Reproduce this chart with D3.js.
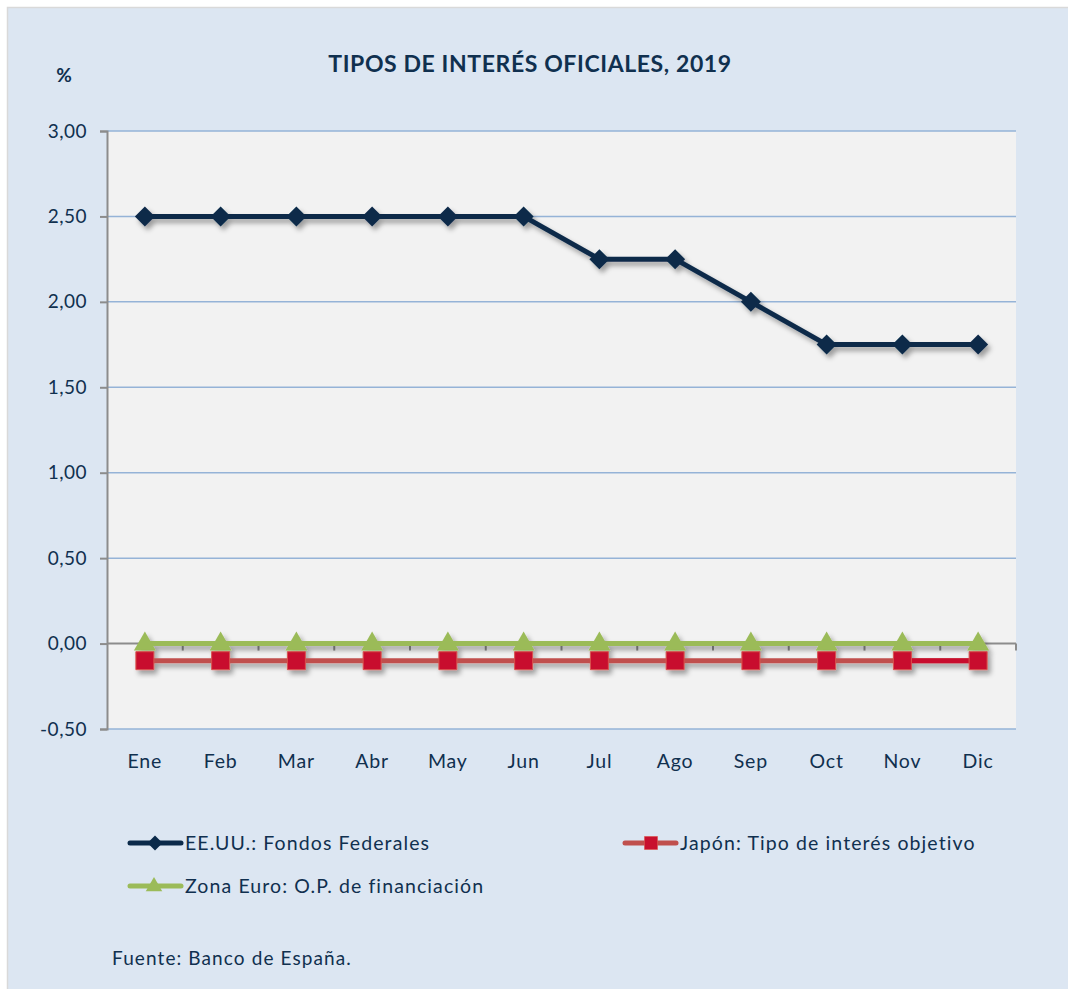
<!DOCTYPE html>
<html>
<head>
<meta charset="utf-8">
<script src="https://cdn.jsdelivr.net/npm/d3@7"></script>
<style>
    body { margin: 0; background: #fff; }
    svg { display: block; }
    text { font-family: Lato, "Open Sans", sans-serif; fill: #10304f; }
</style>
</head>
<body>
<div id="chart"></div>
<script>
// chart data
let months = ["Ene", "Feb", "Mar", "Abr", "May", "Jun", "Jul", "Ago", "Sep", "Oct", "Nov", "Dic"];
let usaValues = [2.5, 2.5, 2.5, 2.5, 2.5, 2.5, 2.25, 2.25, 2.0, 1.75, 1.75, 1.75];
let japanValues = [-0.1, -0.1, -0.1, -0.1, -0.1, -0.1, -0.1, -0.1, -0.1, -0.1, -0.1, -0.1];
let euroValues = [0, 0, 0, 0, 0, 0, 0, 0, 0, 0, 0, 0];
let yTicks = [-0.5, 0, 0.5, 1, 1.5, 2, 2.5, 3];
let seriesNames = ["EE.UU.: Fondos Federales", "Japón: Tipo de interés objetivo", "Zona Euro: O.P. de financiación"];

let config = {
    width: 1068,
    height: 989,
    left: 107,
    right: 1016,
    top: 131,
    bottom: 729
};

let series = [
    {name: seriesNames[2], values: euroValues, color: "#9bbb59", marker: "triangle", fill: "#9bbb59"},
    {name: seriesNames[1], values: japanValues, color: "#c0504d", marker: "square", fill: "#c8102e"},
    {name: seriesNames[0], values: usaValues, color: "#0b2a4a", marker: "diamond", fill: "#0b2a4a"}
];

let svg = d3.select("#chart").append("svg")
    .attr("width", config.width)
    .attr("height", config.height);

let defs = svg.append("defs");
defs.append("filter")
    .attr("id", "shadow")
    .attr("x", "-10%").attr("y", "-50%")
    .attr("width", "120%").attr("height", "200%")
    .append("feDropShadow")
    .attr("dx", 3).attr("dy", 4)
    .attr("stdDeviation", 2.5)
    .attr("flood-color", "#000")
    .attr("flood-opacity", 0.35);

// background panel
svg.append("rect")
    .attr("x", 7.5).attr("y", 7.5)
    .attr("width", config.width).attr("height", config.height)
    .attr("fill", "#dce6f2")
    .attr("stroke", "#d9d9d9")
    .attr("stroke-width", 1.5);

let x = d3.scaleBand()
    .domain(months)
    .range([config.left, config.right]);

let y = d3.scaleLinear()
    .domain([-0.5, 3])
    .range([config.bottom, config.top]);

// plot area
svg.append("rect")
    .attr("x", config.left).attr("y", config.top)
    .attr("width", config.right - config.left)
    .attr("height", config.bottom - config.top)
    .attr("fill", "#f2f2f2");

// gridlines
svg.append("g")
    .selectAll("line")
    .data(yTicks.filter((d) => d !== 0))
    .enter().append("line")
    .attr("x1", config.left).attr("x2", config.right)
    .attr("y1", (d) => y(d)).attr("y2", (d) => y(d))
    .attr("stroke", "#95b3d7")
    .attr("stroke-width", 1.5);

// y axis
let yAxis = svg.append("g")
    .attr("transform", `translate(${config.left},0)`)
    .call(d3.axisLeft(y)
        .tickValues(yTicks)
        .tickSize(7)
        .tickPadding(13)
        .tickFormat((d) => d3.format(".2f")(d).replace(".", ",").replace("\u2212", "-")));
yAxis.select(".domain").attr("stroke", "#8c8c8c").attr("stroke-width", 2);
yAxis.selectAll(".tick line").attr("stroke", "#8c8c8c").attr("stroke-width", 2);
yAxis.selectAll(".tick text")
    .style("font-size", "19px")
    .style("letter-spacing", "0.5px")
    .attr("fill", "#10304f");

// x axis at zero
let xAxis = svg.append("g")
    .attr("transform", `translate(0,${y(0)})`);
xAxis.append("line")
    .attr("x1", config.left).attr("x2", config.right)
    .attr("stroke", "#8c8c8c").attr("stroke-width", 2);
xAxis.selectAll("line.tick")
    .data(months.slice(1).concat(["end"]))
    .enter().append("line")
    .attr("class", "tick")
    .attr("x1", (d) => d === "end" ? config.right : x(d))
    .attr("x2", (d) => d === "end" ? config.right : x(d))
    .attr("y1", 0).attr("y2", 7)
    .attr("stroke", "#8c8c8c").attr("stroke-width", 2);

// x labels at the bottom
svg.append("g")
    .selectAll("text")
    .data(months)
    .enter().append("text")
    .attr("x", (d) => x(d) + x.bandwidth() / 2)
    .attr("y", config.bottom + 39)
    .attr("text-anchor", "middle")
    .style("font-size", "19.5px")
    .style("letter-spacing", "0.8px")
    .text((d) => d);

let line = d3.line()
    .x((d, i) => x(months[i]) + x.bandwidth() / 2)
    .y((d) => y(d));

function markerPath(type) {
    if (type === "diamond") return "M0,-10L10,0L0,10L-10,0Z";
    if (type === "square") return "M-9,-9H9V9H-9Z";
    return "M0,-12L11,7H-11Z";
}

series.forEach(function (s) {
    let g = svg.append("g").attr("filter", "url(#shadow)");
    g.append("path")
        .datum(s.values)
        .attr("d", line)
        .attr("fill", "none")
        .attr("stroke", s.color)
        .attr("stroke-width", 5)
        .attr("stroke-linejoin", "round");
    if (s.marker === "square") {
        // last segment drawn in the marker colour, as in the original
        g.append("path")
            .datum(s.values.slice(-2))
            .attr("d", d3.line()
                .x((d, i) => x(months[months.length - 2 + i]) + x.bandwidth() / 2)
                .y((d) => y(d)))
            .attr("stroke", s.fill)
            .attr("stroke-width", 5);
    }
    g.selectAll("path.marker")
        .data(s.values)
        .enter().append("path")
        .attr("class", "marker")
        .attr("transform", (d, i) => `translate(${x(months[i]) + x.bandwidth() / 2},${y(d)})`)
        .attr("d", markerPath(s.marker))
        .attr("fill", s.fill)
        .attr("stroke", s.marker === "square" ? "#d9534f" : "none")
        .attr("stroke-width", 1);
});

// title
svg.append("text")
    .attr("x", 530).attr("y", 72)
    .attr("text-anchor", "middle")
    .style("font-size", "23px")
    .style("font-weight", "bold")
    .style("letter-spacing", "0.6px")
    .attr("fill", "#10304f")
    .text("TIPOS DE INTERÉS OFICIALES, 2019");

svg.append("text")
    .attr("x", 64).attr("y", 82)
    .attr("text-anchor", "middle")
    .style("font-size", "19px")
    .style("font-weight", "bold")
    .text("%");

// legend
let legendItems = [
    {s: series[2], x: 130, y: 843},
    {s: series[1], x: 625, y: 843},
    {s: series[0], x: 130, y: 886}
];
legendItems.forEach(function (item) {
    let g = svg.append("g").attr("transform", `translate(${item.x},${item.y})`);
    g.append("line")
        .attr("x1", 0).attr("x2", 51)
        .attr("stroke", item.s.color)
        .attr("stroke-width", 5)
        .attr("stroke-linecap", "round");
    let m = g.append("path")
        .attr("d", markerPath(item.s.marker))
        .attr("fill", item.s.fill)
        .attr("stroke", item.s.marker === "square" ? "#d9534f" : "none");
    if (item.s.marker === "square") m.attr("transform", "translate(26,0) scale(0.72)");
    else if (item.s.marker === "triangle") m.attr("transform", "translate(24,0) scale(0.75)");
    else m.attr("transform", "translate(25,0) scale(0.75)");
    g.append("text")
        .attr("x", 55).attr("y", 7)
        .style("font-size", "19.5px")
        .style("letter-spacing", "1.1px")
        .text(item.s.name);
});

svg.append("text")
    .attr("x", 112).attr("y", 965)
    .style("font-size", "19px")
    .style("letter-spacing", "1.1px")
    .text("Fuente: Banco de España.");
</script>
</body>
</html>
